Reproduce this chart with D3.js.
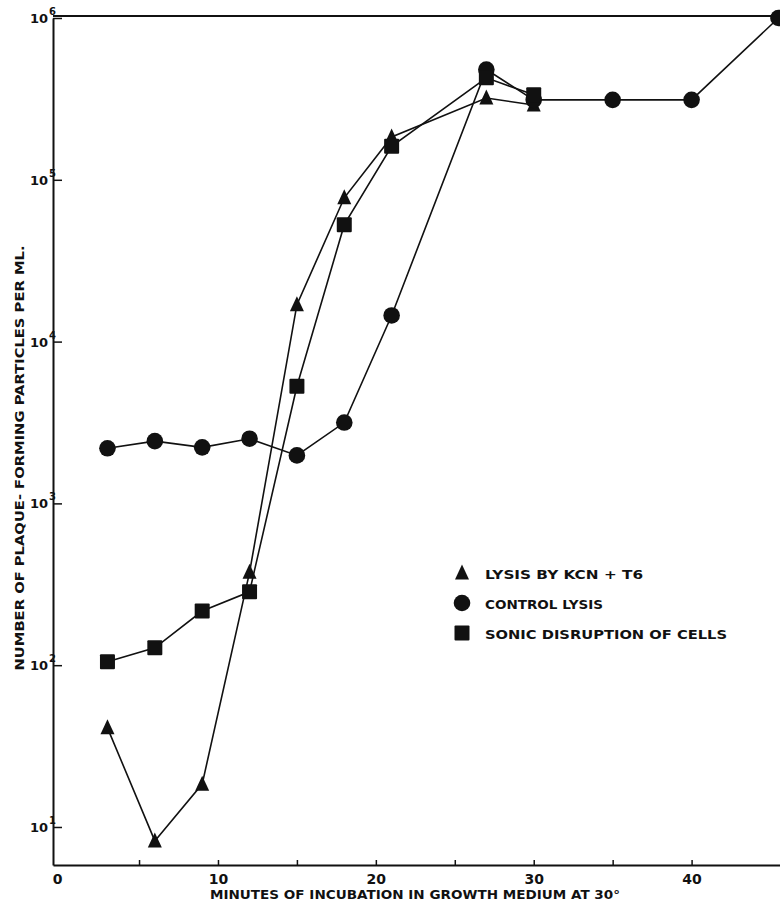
<!DOCTYPE html>
<html>
<head>
<meta charset="utf-8">
<script src="https://cdn.jsdelivr.net/npm/d3@7"></script>
<style>
  body { margin: 0; background: #fff; }
  text { font-family: "DejaVu Sans", sans-serif; font-weight: bold; fill: #111; }
</style>
</head>
<body>
<svg id="chart" width="780" height="905"></svg>
<script>
// Plaque-forming particles per ml vs. minutes of incubation
const xTickValues = [0, 10, 20, 30, 40];
const xMinorTickValues = [5, 15, 25, 35];
const yTickValues = [1e1, 1e2, 1e3, 1e4, 1e5, 1e6];
const yTickExponents = ["1", "2", "3", "4", "5", "6"];

const minutesKCN = [3, 6, 9, 12, 15, 18, 21, 27, 30];
const valuesKCN = [41, 8.2, 18.4, 375, 16900, 77400, 184000, 320000, 290000];

const minutesControl = [3, 6, 9, 12, 15, 18, 21, 27, 30, 35, 40, 45.5];
const valuesControl = [2190, 2425, 2220, 2510, 1980, 3160, 14500, 480000, 312000, 312000, 312000, 1000000];

const minutesSonic = [3, 6, 9, 12, 15, 18, 21, 27, 30];
const valuesSonic = [105, 128, 216, 284, 5300, 52800, 161000, 427000, 335000];

const legendLabels = ["LYSIS BY KCN + T6", "CONTROL LYSIS", "SONIC DISRUPTION OF CELLS"];
const xTitle = "MINUTES OF INCUBATION IN GROWTH MEDIUM AT 30°";
const yTitle = "NUMBER OF PLAQUE- FORMING PARTICLES PER ML.";

const svg = d3.select("#chart");
const ink = "#111";

const x = d3.scaleLinear().domain([-0.45, 45.6]).range([53, 780]);
const y = d3.scaleLog().domain([Math.pow(10, 0.765), 1e6]).range([865, 18]);

// Plot frame: left axis, bottom axis, top rule
const frameTop = y(1e6) - 2;
svg.append("line").attr("x1", 53).attr("x2", 780).attr("y1", frameTop).attr("y2", frameTop)
  .attr("stroke", ink).attr("stroke-width", 2);

// Bottom axis with inward ticks
const xAxis = d3.axisBottom(x)
  .tickValues(xTickValues.concat(xMinorTickValues).sort((a, b) => a - b))
  .tickSizeInner(-5).tickSizeOuter(0).tickPadding(9)
  .tickFormat(d => xTickValues.includes(d) ? String(d) : "");
const gx = svg.append("g").attr("transform", `translate(0,${y.range()[0]})`).call(xAxis);
gx.select(".domain").attr("stroke", ink).attr("stroke-width", 2);
gx.selectAll(".tick line").attr("stroke", ink).attr("stroke-width", 1.5)
  .attr("opacity", d => d === 0 ? 0 : 1);
gx.selectAll(".tick text").attr("font-size", 14).attr("font-family", "DejaVu Sans").attr("font-weight", "bold")
  .attr("fill", ink).attr("dx", d => d === 0 ? -3 : 0);

// Left axis with inward decade ticks
const yAxis = d3.axisLeft(y).tickValues(yTickValues).tickSizeInner(-9).tickSizeOuter(0).tickFormat("");
const gy = svg.append("g").attr("transform", `translate(${x.range()[0]},0)`).call(yAxis);
gy.select(".domain").attr("stroke", ink).attr("stroke-width", 2);
gy.selectAll(".tick line").attr("stroke", ink).attr("stroke-width", 1.5);

// Decade labels 10^n
yTickValues.forEach((v, i) => {
  const t = svg.append("text").attr("x", 48).attr("y", y(v) + 5)
    .attr("text-anchor", "end").attr("font-size", 13).text("10");
  svg.append("text").attr("x", 49).attr("y", y(v) - 3)
    .attr("font-size", 10).text(yTickExponents[i]);
});

// Series lines and markers
const line = d3.line().x(d => x(d[0])).y(d => y(d[1]));
const series = [
  { minutes: minutesKCN, values: valuesKCN, shape: "triangle" },
  { minutes: minutesControl, values: valuesControl, shape: "circle" },
  { minutes: minutesSonic, values: valuesSonic, shape: "square" }
];

const plot = svg.append("g");
plot.append("clipPath").attr("id", "clip").append("rect")
  .attr("x", 40).attr("y", 0).attr("width", 740).attr("height", 880);

function drawMarker(g, shape, cx, cy) {
  if (shape === "circle") {
    g.append("circle").attr("cx", cx).attr("cy", cy).attr("r", 8.3).attr("fill", ink);
  } else if (shape === "square") {
    g.append("rect").attr("x", cx - 7.5).attr("y", cy - 7.5).attr("width", 15).attr("height", 15)
      .attr("rx", 1).attr("fill", ink);
  } else {
    g.append("path").attr("d", `M${cx},${cy - 8.5}L${cx + 7},${cy + 6.5}L${cx - 7},${cy + 6.5}Z`)
      .attr("fill", ink);
  }
}

series.forEach(s => {
  const pts = s.minutes.map((m, i) => [m, s.values[i]]);
  plot.append("path").datum(pts).attr("d", line)
    .attr("fill", "none").attr("stroke", ink).attr("stroke-width", 1.6)
    .attr("clip-path", "url(#clip)");
});
series.forEach(s => {
  const g = plot.append("g").attr("clip-path", "url(#clip)");
  s.minutes.forEach((m, i) => drawMarker(g, s.shape, x(m), y(s.values[i])));
});

// Legend
const legendShapes = ["triangle", "circle", "square"];
const legendY = [573, 603, 633];
const legendLengths = [158, 118, 242];
legendShapes.forEach((shape, i) => {
  drawMarker(svg.append("g"), shape, 462, legendY[i]);
  svg.append("text").attr("x", 485).attr("y", legendY[i] + 5.5)
    .attr("font-size", 13).attr("textLength", legendLengths[i]).attr("lengthAdjust", "spacingAndGlyphs")
    .text(legendLabels[i]);
});

// Axis titles
svg.append("text").attr("x", 210).attr("y", 899)
  .attr("font-size", 13).attr("textLength", 410).attr("lengthAdjust", "spacingAndGlyphs")
  .text(xTitle);
svg.append("text").attr("transform", "translate(24,458) rotate(-90)")
  .attr("text-anchor", "middle").attr("font-size", 13)
  .attr("textLength", 425).attr("lengthAdjust", "spacingAndGlyphs")
  .text(yTitle);
</script>
</body>
</html>
